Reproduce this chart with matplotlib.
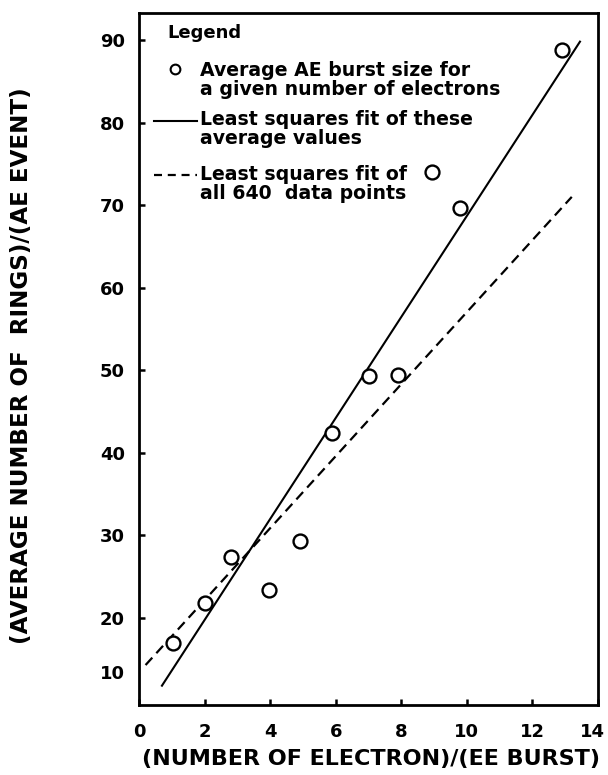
import matplotlib
matplotlib.use('Agg')
import matplotlib.pyplot as plt
import matplotlib.transforms as mtransforms

plt.rcParams['font.family'] = ['DejaVu Sans']
plt.rcParams['font.weight'] = 'bold'

# average AE burst size for a given number of electrons
n_electrons = [1.05, 2.0, 2.8, 3.95, 4.9, 5.9, 7.0, 7.9, 8.95, 9.8, 12.9]
avg_rings = [17.0, 21.8, 27.4, 23.4, 29.3, 42.4, 49.3, 49.4, 74.0, 69.7, 88.8]

# least squares fit of the average values (end points)
fit_avg_x = [0.7, 13.45]
fit_avg_y = [11.8, 89.8]

# least squares fit of all 640 data points (end points)
fit_all_x = [0.2, 13.2]
fit_all_y = [14.3, 71.0]

xticks = [0, 2, 4, 6, 8, 10, 12, 14]
yticks = [20, 30, 40, 50, 60, 70, 80, 90]

legend_title = 'Legend'
legend_lines = [
    ['Average AE burst size for', 'a given number of electrons'],
    ['Least squares fit of these', 'average values'],
    ['Least squares fit of', 'all 640  data points'],
]

fig = plt.figure(figsize=(6.08, 7.75), dpi=100)
ax = fig.add_axes([139/608, 1 - 705/775, 459/608, 692/775])

ax.plot(fit_avg_x, fit_avg_y, color='black', lw=1.5)
ax.plot(fit_all_x, fit_all_y, color='black', lw=1.6, dashes=(4.5, 2.7))
ax.plot(n_electrons, avg_rings, 'o', ms=10, mfc='white', mec='black', mew=1.7)

ax.set_xlim(0, 14)
ax.set_ylim(9.46, 93.27)
ax.set_xticks(xticks)
ax.set_yticks(yticks)
# the "10" label sits off the regular spacing in the original drawing
ax.set_yticks([13.46], labels=['10'], minor=True)
ax.tick_params(axis='y', which='minor', length=0, pad=10, labelsize=13)
ax.tick_params(axis='both', which='major', direction='in', length=4, width=1.8, labelsize=13)
ax.tick_params(axis='x', pad=13)
ax.tick_params(axis='y', which='major', pad=10)
for s in ax.spines.values():
    s.set_linewidth(2.0)

# keep the last x label inside the figure
last = ax.get_xticklabels()[-1]
last.set_transform(last.get_transform() + mtransforms.ScaledTranslation(-0.06, 0, fig.dpi_scale_trans))

ax.set_xlabel('(NUMBER OF ELECTRON)/(EE BURST)', fontsize=16, fontweight='bold')
ax.set_ylabel('(AVERAGE NUMBER OF  RINGS)/(AE EVENT)', fontsize=16.6, fontweight='bold')
ax.xaxis.set_label_coords(0.505, -0.064)
ax.yaxis.set_label_coords(-0.231, 0.491)

# hand-drawn style legend
def fx(px):
    return (px - 139) / 459

def fy(py):
    return (705 - py) / 692

ax.text(fx(167), fy(38), legend_title, fontsize=13, fontweight='bold', va='baseline', transform=ax.transAxes)
baselines = [[76, 95], [125, 144], [180, 199]]
for lines, bls in zip(legend_lines, baselines):
    for t, b in zip(lines, bls):
        ax.text(fx(200), fy(b), t, fontsize=13.6, fontweight='bold', va='baseline', transform=ax.transAxes)
ax.plot([fx(175)], [fy(69)], 'o', ms=7, mfc='white', mec='black', mew=1.5, transform=ax.transAxes, clip_on=False)
ax.plot([fx(154), fx(197)], [fy(121), fy(121)], color='black', lw=1.5, transform=ax.transAxes)
ax.plot([fx(154), fx(197)], [fy(175), fy(175)], color='black', lw=1.6, dashes=(3.6, 2.6), transform=ax.transAxes)

fig.savefig('out.png', dpi=100)
